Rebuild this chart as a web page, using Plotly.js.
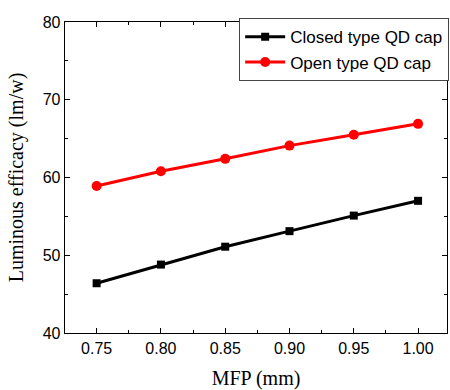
<!DOCTYPE html>
<html>
<head>
<meta charset="utf-8">
<script src="https://cdn.plot.ly/plotly-3.0.1.min.js"></script>
<style>html,body{margin:0;padding:0;background:#fff;}#chart{width:450px;height:390px;}</style>
</head>
<body>
<div id="chart"></div>
<script>
const mfp = [0.75, 0.80, 0.85, 0.90, 0.95, 1.00];
const closedCap = [46.4, 48.8, 51.1, 53.1, 55.1, 57.0];
const openCap = [58.9, 60.8, 62.4, 64.1, 65.5, 66.9];
const seriesNames = ["Closed type QD cap", "Open type QD cap"];
const xTickVals = [0.75, 0.80, 0.85, 0.90, 0.95, 1.00];
const xTickText = ["0.75", "0.80", "0.85", "0.90", "0.95", "1.00"];
const yTickVals = [40, 50, 60, 70, 80];

const traces = [
  {x: mfp, y: closedCap, name: seriesNames[0], type: 'scatter', mode: 'lines+markers',
   line: {color: '#000000', width: 3}, marker: {symbol: 'square', size: 8, color: '#000000'}},
  {x: mfp, y: openCap, name: seriesNames[1], type: 'scatter', mode: 'lines+markers',
   line: {color: '#ff0000', width: 3}, marker: {symbol: 'circle', size: 10, color: '#ff0000'}}
];

const axisCommon = {
  showgrid: false, zeroline: false, showline: true, linecolor: '#000', linewidth: 1.3,
  mirror: 'allticks', ticks: 'inside', ticklen: 5, tickwidth: 1, tickcolor: '#000',
  tickfont: {family: 'Liberation Sans, Arial', size: 16, color: '#000'}
};

const layout = {
  width: 450, height: 390,
  margin: {l: 65, r: 2, t: 22, b: 57},
  paper_bgcolor: '#fff', plot_bgcolor: '#fff',
  showlegend: true,
  legend: {x: 1.003, xanchor: 'right', y: 1.012, yanchor: 'top', bgcolor: '#fff',
           bordercolor: '#444', borderwidth: 1,
           font: {family: 'Liberation Sans, Arial', size: 17, color: '#000'},
           tracegroupgap: 0, itemwidth: 40},
  xaxis: Object.assign({}, axisCommon, {
    range: [0.7254, 1.0225], tickvals: xTickVals, ticktext: xTickText,
    minor: {dtick: 0.025, tick0: 0.75, ticks: 'inside', ticklen: 3, tickcolor: '#000'},
    title: {text: 'MFP (mm)', font: {family: 'Liberation Serif, Times New Roman', size: 20, color: '#000'}, standoff: 15}
  }),
  yaxis: Object.assign({}, axisCommon, {
    range: [40, 80], tickvals: yTickVals,
    minor: {dtick: 5, tick0: 40, ticks: 'inside', ticklen: 3, tickcolor: '#000'},
    title: {text: 'Luminous efficacy (lm/w)', font: {family: 'Liberation Serif, Times New Roman', size: 20, color: '#000'}, standoff: 13}
  })
};

Plotly.newPlot('chart', traces, layout, {staticPlot: true, displayModeBar: false});
</script>
</body>
</html>
